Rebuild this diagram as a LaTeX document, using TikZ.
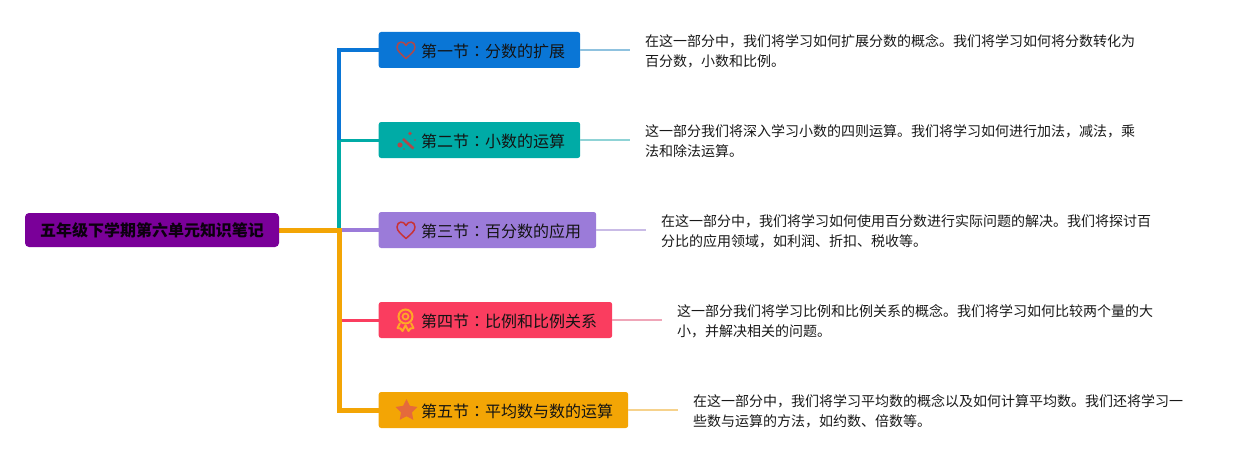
\documentclass[tikz,border=0pt]{standalone}
\usepackage{fontspec}
\setmainfont{Noto Sans CJK SC}
\newfontfamily\tcfont{Noto Sans CJK TC}
\usetikzlibrary{shapes.geometric}
\definecolor{cblue}{HTML}{0A76D6}
\definecolor{cteal}{HTML}{00ABA6}
\definecolor{cpurple}{HTML}{9B7BD9}
\definecolor{cpink}{HTML}{FA3D5F}
\definecolor{corange}{HTML}{F3A505}
\definecolor{croot}{HTML}{7A0099}
\definecolor{iconred}{HTML}{B0484A}
\definecolor{iconorange}{HTML}{FFA726}
\definecolor{iconstar}{HTML}{E56A3C}
\definecolor{tailblue}{HTML}{8FC2DF}
\definecolor{tailteal}{HTML}{8FD3D6}
\definecolor{tailpurple}{HTML}{C9BBE6}
\definecolor{tailpink}{HTML}{EFA6B8}
\definecolor{tailorange}{HTML}{F6D28C}
\newcommand{\cln}{{\tcfont ：}}
\tikzset{
  x=1pt,y=-1pt,
  rootbox/.style={fill=croot,rounded corners=4pt,minimum width=254pt,minimum height=34pt,inner sep=0pt,font=\fontsize{16pt}{18pt}\selectfont\bfseries,text=black!90!croot},
  secbox/.style={fill=#1,rounded corners=2.5pt,minimum height=36pt,inner sep=0pt,anchor=west},
  seclabel/.style={anchor=west,inner sep=0pt,font=\fontsize{16pt}{18pt}\selectfont,text=black!92},
  note/.style={anchor=north west,inner sep=0pt,align=left,font=\fontsize{14pt}{20pt}\selectfont,text=black!90},
  tail/.style={draw=#1,line width=2pt},
  spur/.style={draw=#1,line width=3pt},
}
\newcommand{\heartpath}[3]{% cx cy color
  \draw[#3,line width=1.5pt,line join=round] (#1,#2+8.5) .. controls (#1-5,#2+4) and (#1-9,#2+1) .. (#1-9,#2-3)
    .. controls (#1-9,#2-9) and (#1-2,#2-9.5) .. (#1,#2-4.5)
    .. controls (#1+2,#2-9.5) and (#1+9,#2-9) .. (#1+9,#2-3)
    .. controls (#1+9,#2+1) and (#1+5,#2+4) .. (#1,#2+8.5) -- cycle;}
\begin{document}
\begin{tikzpicture}
\useasboundingbox (0,0) rectangle (1253,460);
% section boxes
\node[secbox=cblue,minimum width=201.5pt] (s1) at (378.5,50) {};
\node[secbox=cteal,minimum width=201.5pt] (s2) at (378.5,140) {};
\node[secbox=cpurple,minimum width=217.5pt] (s3) at (378.5,230) {};
\node[secbox=cpink,minimum width=233.5pt] (s4) at (378.5,320) {};
\node[secbox=corange,minimum width=249.5pt] (s5) at (378.5,410) {};
\coordinate (r) at (279,230);
\coordinate (j) at (339,230);
\coordinate (j1) at (339,50);
\coordinate (j2) at (339,140);
\coordinate (j4) at (339,320);
\coordinate (j5) at (339,410);
\coordinate (e1) at (630,50);
\coordinate (e2) at (630,140);
\coordinate (e3) at (646,230);
\coordinate (e4) at (662,320);
\coordinate (e5) at (678,410);
% branches
\draw[draw=cpurple,line width=4pt] (j) -- (s3.west);
\draw[spur=cpink] (j4) -- (s4.west);
\draw[spur=cteal] (j2) -- (s2.west);
\draw[draw=cteal,line width=3.8pt] (j2) -- (j);
\draw[draw=cblue,line width=4pt] (s1.west) -- (j1) -- (j2);
\draw[draw=corange,line width=5pt] (r) -- (j) -- (j5) -- (s5.west);
% pale tails
\draw[tail=tailblue] (s1.east) -- (e1);
\draw[tail=tailteal] (s2.east) -- (e2);
\draw[tail=tailpurple] (s3.east) -- (e3);
\draw[tail=tailpink] (s4.east) -- (e4);
\draw[tail=tailorange] (s5.east) -- (e5);
\node[rootbox] (root) at (152,230) {五年级下学期第六单元知识笔记};
% labels
\node[seclabel] (l1) at (421,51) {第一节\cln 分数的扩展};
\node[seclabel] (l2) at (421,141) {第二节\cln 小数的运算};
\node[seclabel] (l3) at (421,231) {第三节\cln 百分数的应用};
\node[seclabel] (l4) at (421,321) {第四节\cln 比例和比例关系};
\node[seclabel] (l5) at (421,411) {第五节\cln 平均数与数的运算};
% icons
\heartpath{406}{50}{draw=iconred}
\heartpath{406}{230}{draw=iconred!70!red}
% wand
\draw[draw=iconred,line width=2.6pt] (403,139) -- (413.5,148.5);
\fill[iconred] (400,145) circle (2.6pt) (410,133.5) circle (1.8pt) (415,140) circle (.8pt) (404,149) circle (.8pt);
% medal
\draw[draw=iconorange,line width=2pt] (405.5,316.5) circle (7pt);
\draw[draw=iconorange,line width=1.7pt] (405.5,316.5) circle (3pt);
\draw[draw=iconorange,line width=2pt,line join=round] (400,323) -- (397.5,328) -- (400.5,328.5) -- (402.5,331) -- (405.5,325.5) -- (408.5,331) -- (410.5,328.5) -- (413.5,328) -- (411,323);
% star
\node[star,star points=5,star point ratio=2,fill=iconstar,inner sep=0pt,minimum size=23pt] (st) at (406.5,410.5) {};
% notes
\node[note] (n1) at (645,34) {在这一部分中，我们将学习如何扩展分数的概念。我们将学习如何将分数转化为\\百分数，小数和比例。};
\node[note] (n2) at (645,124) {这一部分我们将深入学习小数的四则运算。我们将学习如何进行加法，减法，乘\\法和除法运算。};
\node[note] (n3) at (661,214) {在这一部分中，我们将学习如何使用百分数进行实际问题的解决。我们将探讨百\\分比的应用领域，如利润、折扣、税收等。};
\node[note] (n4) at (677,304) {这一部分我们将学习比例和比例关系的概念。我们将学习如何比较两个量的大\\小，并解决相关的问题。};
\node[note] (n5) at (693,394) {在这一部分中，我们将学习平均数的概念以及如何计算平均数。我们还将学习一\\些数与运算的方法，如约数、倍数等。};
\end{tikzpicture}
\end{document}
